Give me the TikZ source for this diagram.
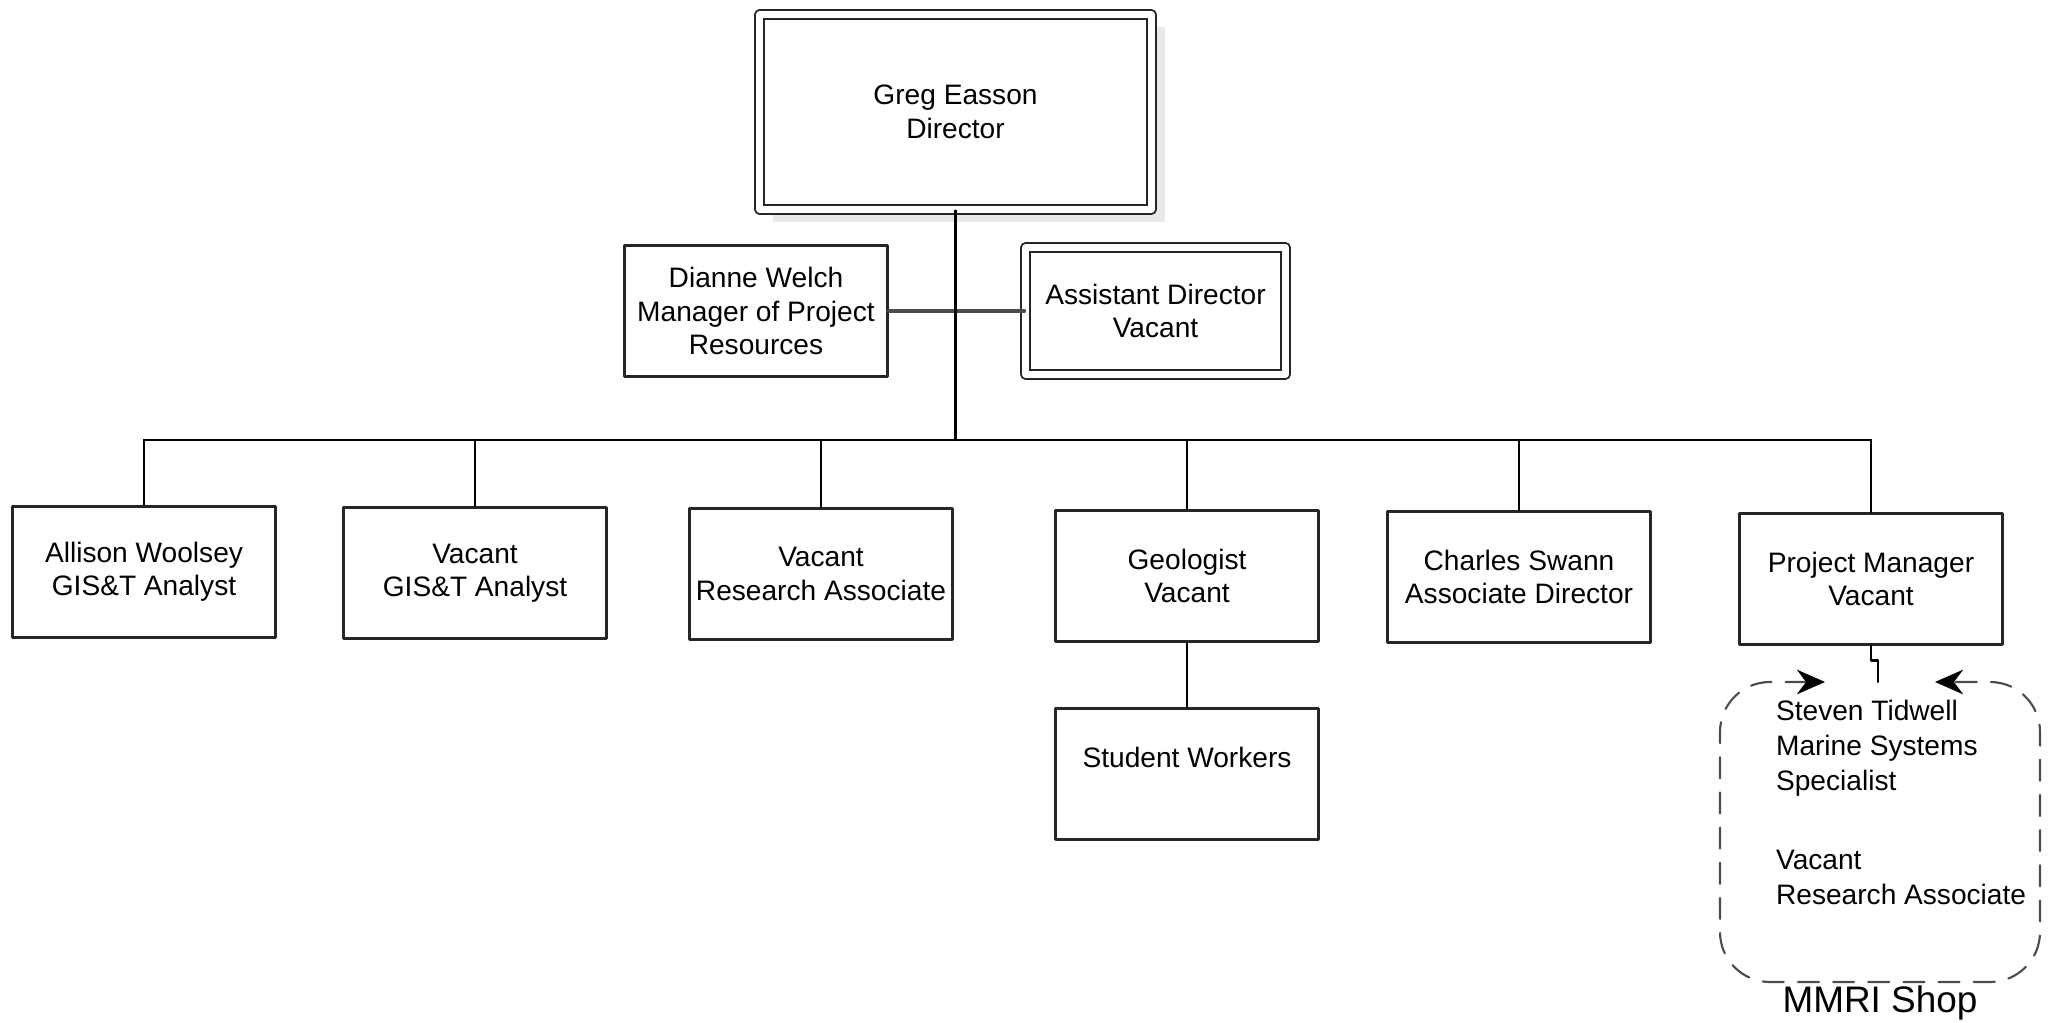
\documentclass[tikz,border=0pt]{standalone}
\usepackage{fontspec}
\setmainfont{Liberation Sans}
\usetikzlibrary{arrows.meta,shadows}
\begin{document}
\begin{tikzpicture}[line join=round,line cap=round,>={Stealth[length=8pt,width=7pt,black]},line width=0.6pt]
	\tikzset{box/.style={draw=black!85,fill=white,minimum width=2.63cm,minimum height=1.31cm,align=center,inner sep=1pt,font=\fontsize{8}{9.5}\selectfont},
		dbox/.style={box,double=white,double distance=1.8pt},
		shop/.style={draw=black!70,dash pattern=on 6pt off 4pt,rounded corners=0.5cm},
		shoptext/.style={anchor=north west,align=left,inner sep=0pt,font=\fontsize{8}{10}\selectfont}}
	\useasboundingbox (0,0) rectangle (20.61,-10.23);
	\node[dbox,minimum width=3.92cm,minimum height=1.95cm,drop shadow={opacity=0.18,shadow xshift=0.13cm,shadow yshift=-0.13cm}] (dir) at (9.555,-1.12) {Greg Easson\\Director};
	\node[box] (dianne) at (7.56,-3.11) {Dianne Welch\\Manager of Project\\Resources};
	\node[dbox,minimum width=2.6cm,minimum height=1.27cm] (asst) at (11.555,-3.11) {Assistant Director\\Vacant};
	\draw[draw=black!70,line width=0.9pt] (dianne) -- (asst);
	\coordinate (bus) at (9.57,-4.40);
	\draw (dir.south) -- (dir.south |- bus);
	\node[box] (allison) at (1.44,-5.72) {Allison Woolsey\\GIS\&T Analyst};
	\node[box] (gisa) at (4.75,-5.73) {Vacant\\GIS\&T Analyst};
	\node[box] (resa) at (8.21,-5.74) {Vacant\\Research Associate};
	\node[box] (geo) at (11.87,-5.76) {Geologist\\Vacant};
	\node[box] (charles) at (15.19,-5.77) {Charles Swann\\Associate Director};
	\node[box] (pm) at (18.71,-5.79) {Project Manager\\Vacant};
	\node[box] (student) at (11.87,-7.74) {Student Workers\\\mbox{}};
	\draw (allison.north |- bus) -- (pm.north |- bus);
	\foreach \n in {allison,gisa,resa,geo,charles,pm}
	\draw (\n.north) -- (\n.north |- bus);
	\draw (geo) -- (student);
	\coordinate (shopin) at (18.78,-6.82);
	\draw (pm.south) -- ++(0,-0.15) -| (shopin);
	\draw[shop,<->] (18.25,-6.82) -| (17.20,-9.82) -| (20.40,-6.82) -- (19.35,-6.82);
	\node[shoptext] (tidwell) at (17.75,-6.99) {Steven Tidwell\\Marine Systems\\Specialist};
	\node[shoptext] (vacra) at (17.75,-8.49) {Vacant\\Research Associate};
	\node[anchor=base,inner sep=0pt,font=\fontsize{10.5}{12}\selectfont] (shopname) at (18.80,-10.13) {MMRI Shop};
\end{tikzpicture}
\end{document}
